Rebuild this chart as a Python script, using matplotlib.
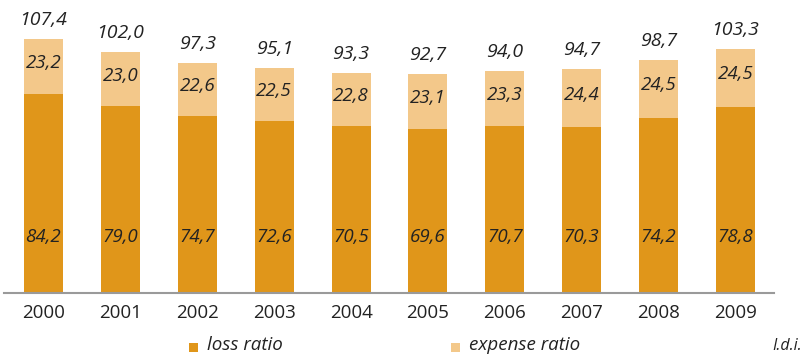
import matplotlib
matplotlib.use("Agg")
import matplotlib.pyplot as plt
from matplotlib.patches import Rectangle

years = ["2000", "2001", "2002", "2003", "2004", "2005", "2006", "2007", "2008", "2009"]
loss_ratio = [84.2, 79.0, 74.7, 72.6, 70.5, 69.6, 70.7, 70.3, 74.2, 78.8]
expense_ratio = [23.2, 23.0, 22.6, 22.5, 22.8, 23.1, 23.3, 24.4, 24.5, 24.5]
combined = [107.4, 102.0, 97.3, 95.1, 93.3, 92.7, 94.0, 94.7, 98.7, 103.3]

loss_color = "#E0961A"
expense_color = "#F3C88A"
text_color = "#222222"

plt.rcParams["font.family"] = ["Open Sans", "DejaVu Sans"]

W, H = 803, 354
fig = plt.figure(figsize=(W / 100, H / 100), dpi=100)
ax = fig.add_axes([4 / W, 61 / H, 770 / W, 293 / H])

def fmt(v):
    return f"{v:.1f}".replace(".", ",")

x = list(range(len(years)))
width = 0.507
ax.bar(x, loss_ratio, width=width, color=loss_color, linewidth=0)
ax.bar(x, expense_ratio, width=width, bottom=loss_ratio, color=expense_color, linewidth=0)

for i in x:
    ax.text(i, 23.7, fmt(loss_ratio[i]), ha="center", va="center",
            fontsize=13.5, style="italic", color=text_color)
    ax.text(i, loss_ratio[i] + expense_ratio[i] / 2 + 1.5, fmt(expense_ratio[i]),
            ha="center", va="center", fontsize=13.5, style="italic", color=text_color)
    ax.text(i, combined[i] + 8.0, fmt(combined[i]), ha="center", va="center",
            fontsize=14, style="italic", color=text_color)

ax.set_xlim(-0.514, 9.50)
ax.set_ylim(0, 124)
for s in ["top", "right", "left"]:
    ax.spines[s].set_visible(False)
ax.spines["bottom"].set_color("#9a9a9a")
ax.spines["bottom"].set_linewidth(1.5)
ax.set_yticks([])
ax.set_xticks(x)
ax.set_xticklabels(years, fontsize=13.5, color=text_color)
ax.tick_params(axis="x", length=0, pad=8)

# legend drawn at the bottom of the figure
def fy(py):
    return 1 - py / H

fig.patches.append(Rectangle((189 / W, fy(352)), 9 / W, 9 / H,
                             transform=fig.transFigure, color=loss_color, lw=0))
fig.text(207 / W, fy(350.5), "loss ratio", ha="left", va="baseline",
         fontsize=13.5, style="italic", color=text_color)
fig.patches.append(Rectangle((451 / W, fy(352)), 9 / W, 9 / H,
                             transform=fig.transFigure, color=expense_color, lw=0))
fig.text(469 / W, fy(350.5), "expense ratio", ha="left", va="baseline",
         fontsize=13.5, style="italic", color=text_color)
fig.text(802 / W, fy(350.5), "I.d.i.", ha="right", va="baseline",
         fontsize=11.5, style="italic", color=text_color)

fig.savefig("out.png", dpi=100)
